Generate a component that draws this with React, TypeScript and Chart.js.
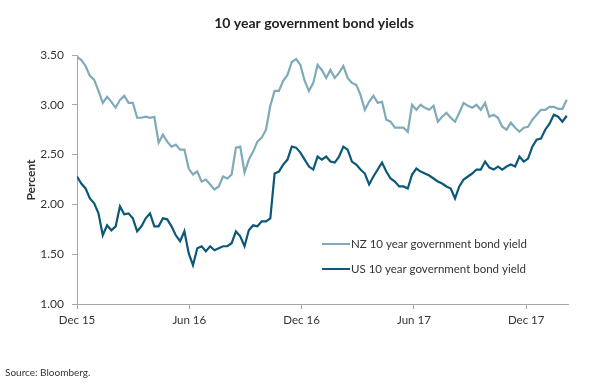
import React, { useEffect, useRef } from "react";
import { Chart, registerables } from "chart.js";

Chart.register(...registerables);

// Weekly observations, starting late Dec 2015 (week index 0) to early Mar 2018
const nzYield = [
  3.48, 3.45, 3.39, 3.29, 3.25, 3.14, 3.02, 3.08, 3.03, 2.97,
  3.05, 3.09, 3.02, 3.02, 2.87, 2.87, 2.88, 2.87, 2.88, 2.62,
  2.70, 2.63, 2.58, 2.60, 2.55, 2.55, 2.36, 2.30, 2.33, 2.23,
  2.25, 2.20, 2.15, 2.18, 2.28, 2.26, 2.30, 2.57, 2.58, 2.32,
  2.45, 2.53, 2.63, 2.67, 2.75, 2.99, 3.14, 3.14, 3.24, 3.30,
  3.43, 3.46, 3.40, 3.24, 3.14, 3.22, 3.40, 3.35, 3.27, 3.35,
  3.27, 3.32, 3.39, 3.27, 3.22, 3.20, 3.10, 2.95, 3.03, 3.09,
  3.02, 3.03, 2.85, 2.83, 2.77, 2.77, 2.77, 2.73,
  3.00, 2.95, 3.00, 2.97, 2.95, 2.99, 2.83, 2.88, 2.92, 2.87,
  2.83, 2.92, 3.02, 2.99, 2.97, 3.00, 2.95, 3.02, 2.88, 2.90,
  2.87, 2.78, 2.75, 2.82, 2.77, 2.73, 2.77, 2.78, 2.85, 2.90,
  2.95, 2.95, 2.98, 2.98, 2.96, 2.96, 3.05,
];

const usYield = [
  2.28, 2.21, 2.16, 2.06, 2.01, 1.91, 1.69, 1.79, 1.74, 1.78,
  1.98, 1.90, 1.91, 1.86, 1.73, 1.78, 1.86, 1.91, 1.78, 1.78,
  1.86, 1.85, 1.78, 1.69, 1.63, 1.73, 1.51, 1.39, 1.56, 1.58,
  1.53, 1.58, 1.54, 1.56, 1.58, 1.58, 1.61, 1.73, 1.68, 1.58,
  1.74, 1.79, 1.78, 1.83, 1.83, 1.86, 2.31, 2.33, 2.40, 2.45,
  2.58, 2.57, 2.52, 2.45, 2.38, 2.35, 2.48, 2.45, 2.48, 2.43,
  2.42, 2.48, 2.58, 2.55, 2.43, 2.40, 2.35, 2.31, 2.20, 2.28,
  2.35, 2.42, 2.33, 2.26, 2.23, 2.18, 2.18, 2.16,
  2.30, 2.36, 2.33, 2.31, 2.29, 2.26, 2.23, 2.21, 2.18, 2.16,
  2.06, 2.18, 2.25, 2.28, 2.31, 2.35, 2.35, 2.43, 2.37, 2.35,
  2.38, 2.35, 2.38, 2.40, 2.38, 2.48, 2.43, 2.46, 2.58, 2.65,
  2.66, 2.75, 2.81, 2.90, 2.88, 2.83, 2.89,
];

const xTickLabels = ["Dec 15", "Jun 16", "Dec 16", "Jun 17", "Dec 17"];
const xTickWeeks = [0, 26.14, 52.29, 78.43, 104.57];
const seriesNames = ["NZ 10 year government bond yield", "US 10 year government bond yield"];
const seriesColors = ["#7eaaba", "#0c5878"];

const FONT = "Lato, 'Open Sans', sans-serif";
const TEXT = "#333333";

export default function App() {
  const ref = useRef<HTMLCanvasElement | null>(null);

  useEffect(() => {
    if (!ref.current) return;
    const toPts = (arr: number[]) => arr.map((v, i) => ({ x: i, y: v }));

    const textPlugin = {
      id: "customText",
      afterDraw(chart: any) {
        const ctx = chart.ctx;
        ctx.save();
        ctx.fillStyle = "#222";
        ctx.font = `bold 14px ${FONT}`;
        ctx.textAlign = "center";
        ctx.textBaseline = "middle";
        ctx.fillText("10 year government bond yields", 314, 23);

        ctx.save();
        ctx.translate(31, 180);
        ctx.rotate(-Math.PI / 2);
        ctx.font = `bold 12px ${FONT}`;
        ctx.fillStyle = TEXT;
        ctx.fillText("Percent", 0, 0);
        ctx.restore();

        // legend
        const ly = [244, 269];
        ctx.font = `11.5px ${FONT}`;
        ctx.textAlign = "left";
        for (let k = 0; k < 2; k++) {
          ctx.strokeStyle = seriesColors[k];
          ctx.lineWidth = 2;
          ctx.beginPath();
          ctx.moveTo(322, ly[k]);
          ctx.lineTo(350, ly[k]);
          ctx.stroke();
          ctx.fillStyle = TEXT;
          ctx.fillText(seriesNames[k], 351, ly[k]);
        }

        ctx.font = `10px ${FONT}`;
        ctx.fillStyle = TEXT;
        ctx.fillText("Source: Bloomberg.", 5, 373);
        ctx.restore();
      },
    };

    const chart = new Chart(ref.current, {
      type: "line",
      data: {
        datasets: [
          {
            label: seriesNames[0],
            data: toPts(nzYield),
            borderColor: seriesColors[0],
            borderWidth: 2.2,
            pointRadius: 0,
            tension: 0,
          },
          {
            label: seriesNames[1],
            data: toPts(usYield),
            borderColor: seriesColors[1],
            borderWidth: 2.2,
            pointRadius: 0,
            tension: 0,
          },
        ],
      },
      options: {
        responsive: false,
        animation: false,
        devicePixelRatio: 1,
        layout: { padding: { left: 0, right: 32, top: 55, bottom: 0 } },
        plugins: { legend: { display: false }, tooltip: { enabled: false } },
        scales: {
          x: {
            type: "linear",
            min: 0,
            max: 114.3,
            afterFit(scale: any) {
              scale.height = 82;
            },
            afterBuildTicks(scale: any) {
              scale.ticks = xTickWeeks.map((v) => ({ value: v }));
            },
            ticks: {
              autoSkip: false,
              maxRotation: 0,
              padding: 4,
              color: TEXT,
              font: { family: FONT, size: 11.5 },
              callback: (_v: any, i: number) => xTickLabels[i],
            },
            grid: {
              drawOnChartArea: false,
              drawTicks: true,
              tickLength: 5,
              color: "#a6a6a6",
            },
            border: { display: true, color: "#a6a6a6", width: 1 },
          },
          y: {
            min: 1,
            max: 3.5,
            afterFit(scale: any) {
              scale.width = 77;
            },
            ticks: {
              stepSize: 0.5,
              padding: 8,
              color: TEXT,
              font: { family: FONT, size: 12 },
              callback: (v: any) => Number(v).toFixed(2),
            },
            grid: {
              drawOnChartArea: false,
              drawTicks: true,
              tickLength: 5,
              color: "#a6a6a6",
            },
            border: { display: true, color: "#a6a6a6", width: 1 },
          },
        },
      },
      plugins: [textPlugin],
    } as any);

    return () => chart.destroy();
  }, []);

  return (
    <div style={{ position: "absolute", left: 0, top: 0, width: 600, height: 386, background: "#fff" }}>
      <canvas ref={ref} width={600} height={386} style={{ display: "block" }} />
    </div>
  );
}
